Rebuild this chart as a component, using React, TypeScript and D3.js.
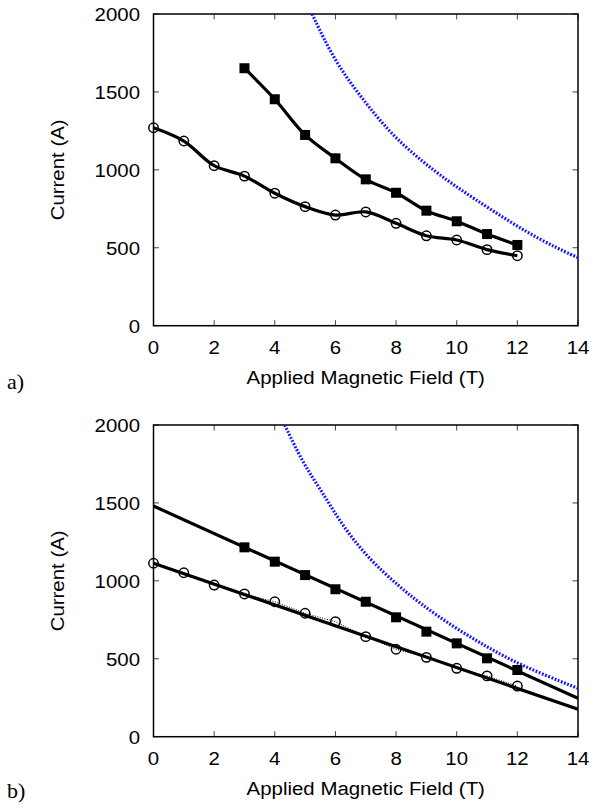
import React from "react";
import * as d3 from "d3";

// ---------- data ----------
const xTicks = [0, 2, 4, 6, 8, 10, 12, 14];
const yTicks = [0, 500, 1000, 1500, 2000];

// panel a
const aCircleField = [0, 1, 2, 3, 4, 5, 6, 7, 8, 9, 10, 11, 12];
const aCircleCurrent = [1270, 1185, 1027, 960, 850, 764, 710, 730, 657, 577, 550, 488, 449];
const aSquareField = [3, 4, 5, 6, 7, 8, 9, 10, 11, 12];
const aSquareCurrent = [1652, 1453, 1224, 1074, 939, 853, 738, 670, 588, 518];
const aLimitField = [5.23, 5.95, 6.83, 7.81, 8.8, 9.74, 10.56, 11.66, 12.76, 13.91, 14];
const aLimitCurrent = [2000, 1705, 1469, 1234, 1063, 924, 817, 678, 550, 443, 438];

// panel b
const bCircleField = [0, 1, 2, 3, 4, 5, 6, 7, 8, 9, 10, 11, 12];
const bCircleCurrent = [1113, 1052, 973, 916, 866, 792, 738, 642, 561, 509, 439, 390, 325];
const bSquareField = [3, 4, 5, 6, 7, 8, 9, 10, 11, 12];
const bSquareCurrent = [1215, 1123, 1037, 946, 866, 766, 674, 599, 503, 428];
const bFitField = [0, 14];
const bSquareFit = [1480, 246];
const bCircleFit = [1113, 176];
const bLimitField = [4.33, 4.93, 5.59, 6.25, 7.13, 8.12, 8.78, 9.88, 10.98, 12.08, 14];
const bLimitCurrent = [2000, 1754, 1562, 1348, 1134, 962, 856, 706, 578, 460, 310];

const xLabel = "Applied Magnetic Field (T)";
const yLabel = "Current (A)";

type Pt = [number, number];
const zip = (xs: number[], ys: number[]): Pt[] => xs.map((x, i) => [x, ys[i]]);

interface PanelProps {
  top: number;
  tag: string;
  tagBaseline: number;
  lines: { pts: Pt[]; curve: any; stroke: string; width: number; dash?: string }[];
  squares: Pt[];
  circles: Pt[];
  id: string;
}

const LEFT = 153.5;
const RIGHT = 578;
const H = 311.7;
const FONT = "'Liberation Sans', Arial, Helvetica, sans-serif";
const FS = 19;
const SX = 1.075;

function T({ x, y, anchor, dy, rotate, children }: any) {
  const tr = `translate(${x},${y})${rotate ? ` rotate(${rotate})` : ""} scale(${SX},1)`;
  return (
    <text transform={tr} dy={dy} textAnchor={anchor} fontSize={FS} fontFamily={FONT} fill="#000">
      {children}
    </text>
  );
}

function Panel({ top, tag, tagBaseline, lines, squares, circles, id }: PanelProps) {
  const bottom = top + H;
  const x = d3.scaleLinear().domain([0, 14]).range([LEFT, RIGHT]);
  const y = d3.scaleLinear().domain([0, 2000]).range([bottom, top]);
  const tl = 5.5;
  return (
    <g>
      <defs>
        <clipPath id={id}>
          <rect x={LEFT} y={top} width={RIGHT - LEFT} height={H} />
        </clipPath>
      </defs>
      {xTicks.map((t) => (
        <g key={"xt" + t}>
          <line x1={x(t)} x2={x(t)} y1={bottom} y2={bottom - tl} stroke="#444" strokeWidth={1} />
          <line x1={x(t)} x2={x(t)} y1={top} y2={top + tl} stroke="#444" strokeWidth={1} />
          <T x={x(t)} y={bottom + 28.3} anchor="middle">
            {t}
          </T>
        </g>
      ))}
      {yTicks.map((t) => (
        <g key={"yt" + t}>
          <line x1={LEFT} x2={LEFT + tl} y1={y(t)} y2={y(t)} stroke="#444" strokeWidth={1} />
          <line x1={RIGHT} x2={RIGHT - tl} y1={y(t)} y2={y(t)} stroke="#444" strokeWidth={1} />
          <T x={140} y={y(t)} dy="0.36em" anchor="end">
            {t}
          </T>
        </g>
      ))}
      <rect x={LEFT} y={top} width={RIGHT - LEFT} height={H} fill="none" stroke="#000" strokeWidth={1.5} />
      <g clipPath={`url(#${id})`}>
        {lines.map((l, i) => {
          const gen = d3
            .line<Pt>()
            .x((d) => x(d[0]))
            .y((d) => y(d[1]))
            .curve(l.curve);
          return (
            <path
              key={i}
              d={gen(l.pts) || ""}
              fill="none"
              stroke={l.stroke}
              strokeWidth={l.width}
              strokeDasharray={l.dash}
            />
          );
        })}
      </g>
      {squares.map((d, i) => (
        <rect key={"s" + i} x={x(d[0]) - 5} y={y(d[1]) - 5} width={10} height={10} fill="#000" />
      ))}
      {circles.map((d, i) => (
        <circle key={"c" + i} cx={x(d[0])} cy={y(d[1])} r={4.7} fill="none" stroke="#000" strokeWidth={1.5} />
      ))}
      <T x={(LEFT + RIGHT) / 2} y={bottom + 58.3} anchor="middle">
        {xLabel}
      </T>
      <T x={63.5} y={(top + bottom) / 2} rotate={-90} anchor="middle">
        {yLabel}
      </T>
      <text x={7} y={tagBaseline} fontSize={22} fontFamily="'Liberation Serif', 'Times New Roman', serif">
        {tag}
      </text>
    </g>
  );
}

export default function App() {
  const aCircles = zip(aCircleField, aCircleCurrent);
  const aSquares = zip(aSquareField, aSquareCurrent);
  const bCircles = zip(bCircleField, bCircleCurrent);
  const bSquares = zip(bSquareField, bSquareCurrent);
  return (
    <svg width={594} height={812} style={{ position: "absolute", left: 0, top: 0, background: "#fff" }}>
      <rect width={594} height={812} fill="#fff" />
      <Panel
        id="clipA"
        top={14}
        tag="a)"
        tagBaseline={389}
        lines={[
          { pts: zip(aLimitField, aLimitCurrent), curve: d3.curveBasis, stroke: "#1515ff", width: 3.2, dash: "1.8,1.6" },
          { pts: aSquares, curve: d3.curveCatmullRom, stroke: "#000", width: 3.2 },
          { pts: aCircles, curve: d3.curveCatmullRom, stroke: "#000", width: 3.2 },
        ]}
        squares={aSquares}
        circles={aCircles}
      />
      <Panel
        id="clipB"
        top={425}
        tag="b)"
        tagBaseline={798}
        lines={[
          { pts: zip(bLimitField, bLimitCurrent), curve: d3.curveBasis, stroke: "#1515ff", width: 3.2, dash: "1.8,1.6" },
          { pts: bCircles, curve: d3.curveLinear, stroke: "#000", width: 1, dash: "1,1.5" },
          { pts: zip(bFitField, bSquareFit), curve: d3.curveLinear, stroke: "#000", width: 3.2 },
          { pts: zip(bFitField, bCircleFit), curve: d3.curveLinear, stroke: "#000", width: 3.2 },
        ]}
        squares={bSquares}
        circles={bCircles}
      />
    </svg>
  );
}
